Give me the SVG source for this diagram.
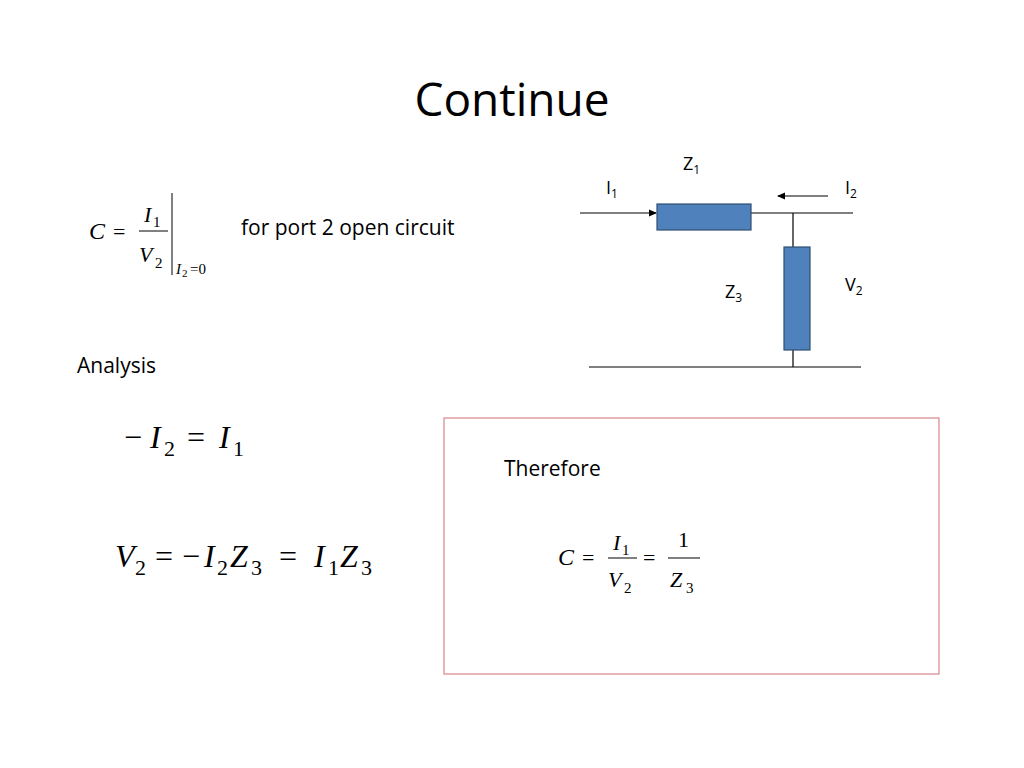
<svg xmlns="http://www.w3.org/2000/svg" width="1024" height="768" viewBox="0 0 1024 768">
<style>
.c{font-family:"Open Sans","Liberation Sans",sans-serif;fill:#000}
.m{font-family:"Liberation Serif",serif;fill:#000}
.i{font-style:italic}
.w{stroke:#000;stroke-width:1.2;fill:none}
.r{fill:#4f81bd;stroke:#2f4f70;stroke-width:1.2}
</style>
<defs><marker id="a" markerWidth="8" markerHeight="8" refX="7" refY="4" orient="auto" markerUnits="userSpaceOnUse"><path d="M0,0.5 L8,4 L0,7.5Z" fill="#000"/></marker></defs>
<rect width="1024" height="768" fill="#fff"/>
<text x="512" y="116" text-anchor="middle" class="c" font-size="46">Continue</text>
<g id="formulaC">
<text x="89" y="239" class="m i" font-size="24">C</text>
<text x="113" y="239" class="m" font-size="22">=</text>
<text x="144" y="222" class="m i" font-size="22">I</text><text x="153" y="227" class="m" font-size="15">1</text>
<line x1="139" y1="231" x2="168" y2="231" stroke="#000" stroke-width="1"/>
<text x="139" y="262" class="m i" font-size="22">V</text><text x="155" y="268" class="m" font-size="15">2</text>
<line x1="172" y1="193" x2="172" y2="275" stroke="#000" stroke-width="1"/>
<text x="176" y="274" class="m i" font-size="15">I</text><text x="182" y="277" class="m" font-size="11">2</text><text x="190" y="274" class="m" font-size="15">=0</text>
</g>
<text x="241" y="235" class="c" font-size="21">for port 2 open circuit</text>
<text x="77" y="373" class="c" font-size="21">Analysis</text>
<g id="eq1">
<text x="124" y="448" class="m" font-size="32">−</text>
<text x="150" y="448" class="m i" font-size="32">I</text><text x="164" y="456" class="m" font-size="22">2</text>
<text x="187" y="448" class="m" font-size="32">=</text>
<text x="219" y="448" class="m i" font-size="32">I</text><text x="233" y="456" class="m" font-size="22">1</text>
</g>
<g id="eq2">
<text x="115" y="567" class="m i" font-size="32">V</text><text x="135" y="575" class="m" font-size="22">2</text>
<text x="155" y="567" class="m" font-size="32">=</text>
<text x="182" y="567" class="m" font-size="32">−</text>
<text x="204" y="567" class="m i" font-size="32">I</text><text x="217" y="575" class="m" font-size="22">2</text>
<text x="230" y="567" class="m i" font-size="32">Z</text><text x="251" y="575" class="m" font-size="22">3</text>
<text x="279" y="567" class="m" font-size="32">=</text>
<text x="314" y="567" class="m i" font-size="32">I</text><text x="328" y="575" class="m" font-size="22">1</text>
<text x="340" y="567" class="m i" font-size="32">Z</text><text x="361" y="575" class="m" font-size="22">3</text>
</g>
<g id="box">
<rect x="444" y="418" width="495" height="256" fill="none" stroke="#d9868a" stroke-width="1.2"/>
<text x="504" y="476" class="c" font-size="21">Therefore</text>
<text x="558" y="565" class="m i" font-size="24">C</text>
<text x="582" y="565" class="m" font-size="22">=</text>
<text x="613" y="550" class="m i" font-size="22">I</text><text x="622" y="555" class="m" font-size="15">1</text>
<line x1="608" y1="558" x2="637" y2="558" stroke="#000" stroke-width="1"/>
<text x="608" y="587" class="m i" font-size="22">V</text><text x="624" y="593" class="m" font-size="15">2</text>
<text x="643" y="565" class="m" font-size="22">=</text>
<text x="678" y="547" class="m" font-size="22">1</text>
<line x1="668" y1="558" x2="700" y2="558" stroke="#000" stroke-width="1"/>
<text x="670" y="587" class="m i" font-size="22">Z</text><text x="686" y="593" class="m" font-size="15">3</text>
</g>
<g id="connectors">
<line x1="580" y1="213" x2="656" y2="213" class="w" marker-end="url(#a)"/>
<line x1="751" y1="213" x2="853" y2="213" class="w"/>
<line x1="793" y1="213" x2="793" y2="247" class="w"/>
<line x1="793" y1="350" x2="793" y2="367" class="w"/>
<line x1="589" y1="367" x2="861" y2="367" class="w"/>
<line x1="828" y1="196" x2="778" y2="196" class="w" marker-end="url(#a)"/>
</g>
<g id="Z1"><rect x="657" y="204" width="94" height="26" class="r"/><text x="683" y="170" class="c" font-size="18">Z<tspan font-size="12" dy="4">1</tspan></text></g>
<g id="Z3"><rect x="784" y="247" width="26" height="103" class="r"/><text x="725" y="298" class="c" font-size="18">Z<tspan font-size="12" dy="4">3</tspan></text></g>
<text x="606" y="194" class="c" font-size="18">I<tspan font-size="12" dy="4">1</tspan></text>
<text x="845" y="194" class="c" font-size="18">I<tspan font-size="12" dy="4">2</tspan></text>
<text x="845" y="291" class="c" font-size="18">V<tspan font-size="12" dy="4">2</tspan></text>
</svg>
